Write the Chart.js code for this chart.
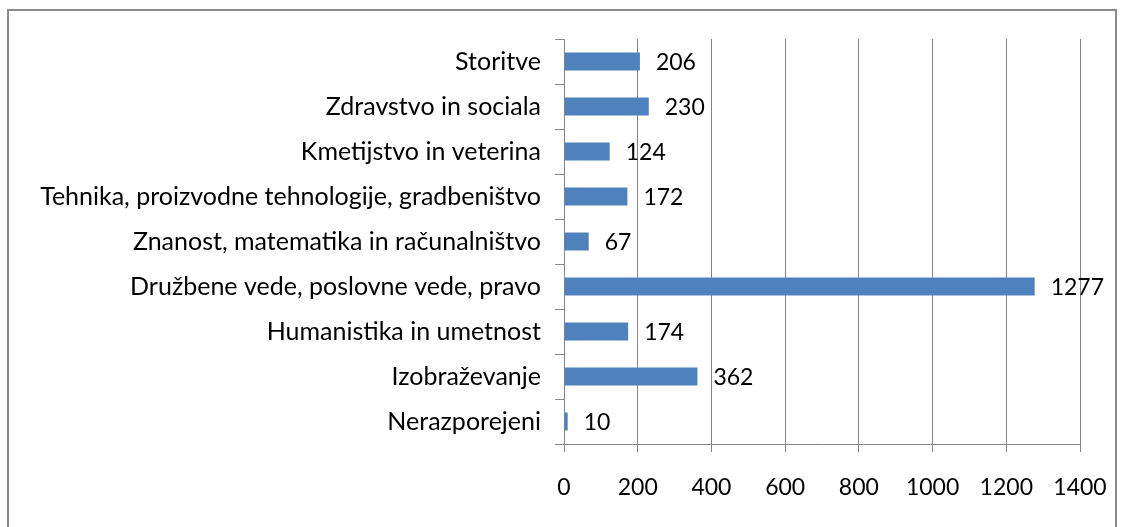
<!DOCTYPE html>
<html>
<head>
<meta charset="utf-8">
<script src="https://cdn.jsdelivr.net/npm/chart.js@4"></script>
<style>
    body { margin: 0; background: #fff; }
    #wrap { position: relative; width: 1125px; height: 527px; overflow: hidden; }
    #frame { position: absolute; left: 7px; top: 9px; width: 1110px; height: 540px; border: 2px solid #8a8a8a; box-sizing: border-box; }
    canvas { position: absolute; left: 0; top: 0; }
</style>
</head>
<body>
<div id="wrap">
    <div id="frame"></div>
    <canvas id="barChart" width="1125" height="527"></canvas>
</div>
<script>
// Categories, top to bottom as in the picture
const categories = [
    'Storitve',
    'Zdravstvo in sociala',
    'Kmetijstvo in veterina',
    'Tehnika, proizvodne tehnologije, gradbeništvo',
    'Znanost, matematika in računalništvo',
    'Družbene vede, poslovne vede, pravo',
    'Humanistika in umetnost',
    'Izobraževanje',
    'Nerazporejeni'
];
const counts = [206, 230, 124, 172, 67, 1277, 174, 362, 10];
const xTicks = [0, 200, 400, 600, 800, 1000, 1200, 1400];

const FONT = 'Lato, "Open Sans", sans-serif';
const GRID = '#868686';

// draw the number to the right of each bar
const valueLabels = {
    id: 'valueLabels',
    afterDatasetsDraw(chart) {
        const ctx = chart.ctx;
        const meta = chart.getDatasetMeta(0);
        ctx.save();
        ctx.font = '23px ' + FONT;
        ctx.fillStyle = '#000';
        ctx.textAlign = 'left';
        ctx.textBaseline = 'middle';
        meta.data.forEach((bar, i) => {
            ctx.fillText(String(counts[i]), bar.x + 16, bar.y + 1);
        });
        ctx.restore();
    }
};

new Chart(document.getElementById('barChart'), {
    type: 'bar',
    data: {
        labels: categories,
        datasets: [{
            data: counts,
            backgroundColor: '#4F81BD',
            borderWidth: 0,
            categoryPercentage: 0.8,
            barPercentage: 0.5
        }]
    },
    options: {
        indexAxis: 'y',
        responsive: false,
        animation: false,
        layout: { padding: { top: 39, right: 45, bottom: 0, left: 0 } },
        plugins: {
            legend: { display: false },
            tooltip: { enabled: false }
        },
        scales: {
            x: {
                min: 0,
                max: 1400,
                afterBuildTicks: scale => { scale.ticks = xTicks.map(v => ({ value: v })); },
                afterFit: scale => {
                    scale.height = 83;
                    scale.paddingLeft = 0;
                    scale.paddingRight = 0;
                },
                grid: { color: GRID, lineWidth: 1, tickLength: 8, drawTicks: true },
                border: { color: GRID, width: 1 },
                ticks: {
                    color: '#000',
                    font: { family: FONT, size: 23 },
                    padding: 22,
                    callback: v => String(v)
                }
            },
            y: {
                afterFit: scale => { scale.width = 564; },
                grid: { display: true, drawOnChartArea: false, color: GRID, tickLength: 9, offset: true },
                border: { color: GRID, width: 1 },
                ticks: { color: '#000', font: { family: FONT, size: 25 }, padding: 14 }
            }
        }
    },
    plugins: [valueLabels]
});
</script>
</body>
</html>
